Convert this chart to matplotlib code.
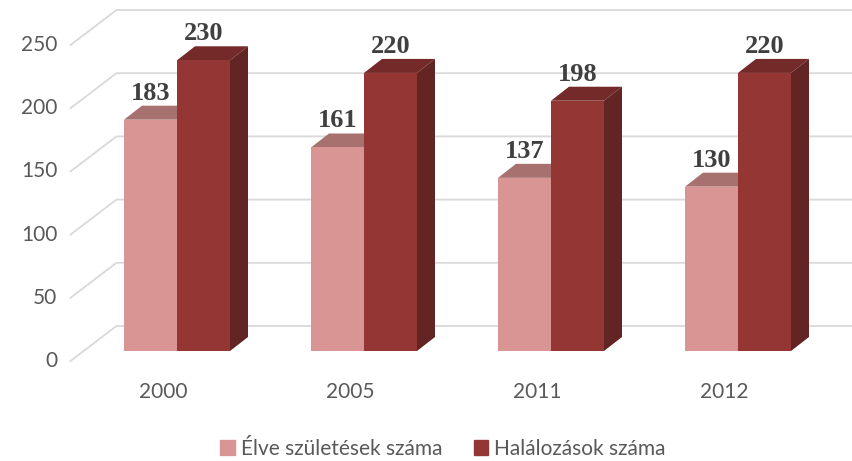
import matplotlib.pyplot as plt
from matplotlib.patches import Polygon, Patch
import numpy as np

# adatok
years = ['2000', '2005', '2011', '2012']
births = [183, 161, 137, 130]
deaths = [230, 220, 198, 220]
series_names = ['Élve születések száma', 'Halálozások száma']
yticks = [0, 50, 100, 150, 200, 250]

# szinek (front, top, side)
pink = ('#D99594', '#A6716F', '#A6716F')
dark = ('#943634', '#742A28', '#632523')
grid_c = '#D9D9D9'
txt_c = '#595959'

W, H = 852, 461
fig = plt.figure(figsize=(W / 100, H / 100), dpi=100)
ax = fig.add_axes([83.5 / W, 110 / H, 748 / W, 316 / H])
ax.set_xlim(-0.5, len(years) - 0.5)
ax.set_ylim(0, 250)
ax.axis('off')

# pixel -> data egysegek
px_x = (ax.get_xlim()[1] - ax.get_xlim()[0]) / (748)
px_y = 250 / 316

bar_w = 53 / 187
depth = (18 * px_x, 14 * px_y)
back = (33 * px_x, 25 * px_y)
front_wall = (-13 * px_x, -10 * px_y)

x = np.arange(len(years))
x_left = ax.get_xlim()[0]
x_right = ax.get_xlim()[1]

# racsvonalak a hatso es oldalso falon
for v in yticks:
    ax.plot([x_left + front_wall[0], x_left + back[0], x_right + back[0] + 1],
            [v + front_wall[1], v + back[1], v + back[1]],
            color=grid_c, lw=1.3, clip_on=False, zorder=0)
    ax.annotate(str(v), (x_left + front_wall[0], v + front_wall[1]),
                xytext=(-13, 0), textcoords='offset pixels', annotation_clip=False,
                ha='right', va='center', fontsize=15, family='Lato', color=txt_c)


def bar3d(x0, h, cols, z):
    x1 = x0 + bar_w
    dx, dy = depth
    ax.add_patch(Polygon([(x0, h), (x1, h), (x1 + dx, h + dy), (x0 + dx, h + dy)],
                         closed=True, fc=cols[1], ec='none', clip_on=False, zorder=z))
    ax.add_patch(Polygon([(x1, 0), (x1 + dx, dy), (x1 + dx, h + dy), (x1, h)],
                         closed=True, fc=cols[2], ec='none', clip_on=False, zorder=z))
    ax.bar(x0, h, bar_w, align='edge', color=cols[0], zorder=z + 0.5, clip_on=False)
    ax.annotate(str(h), (x0 + bar_w / 2, h + dy), xytext=(0, 6),
                textcoords='offset pixels', ha='center', va='baseline',
                annotation_clip=False,
                fontsize=19, fontweight='bold', family='Liberation Serif',
                color='#404040', zorder=10)


for i in x:
    bar3d(i - bar_w, births[i], pink, 2)
    bar3d(i, deaths[i], dark, 3)
    ax.annotate(years[i], (i, 0), xytext=(-14, -41), textcoords='offset pixels',
                annotation_clip=False,
                ha='center', va='center', fontsize=15, family='Lato', color=txt_c)

handles = [Patch(color=pink[0]), Patch(color=dark[0])]
leg = fig.legend(handles, series_names, loc='center', bbox_to_anchor=(443 / W, 1 - 449 / H),
                 ncol=2, frameon=False, handlelength=0.7, handleheight=0.7,
                 handletextpad=0.3, columnspacing=1.5,
                 prop={'family': 'Lato', 'size': 15})
for t in leg.get_texts():
    t.set_color(txt_c)

fig.savefig('out.png', dpi=100)
